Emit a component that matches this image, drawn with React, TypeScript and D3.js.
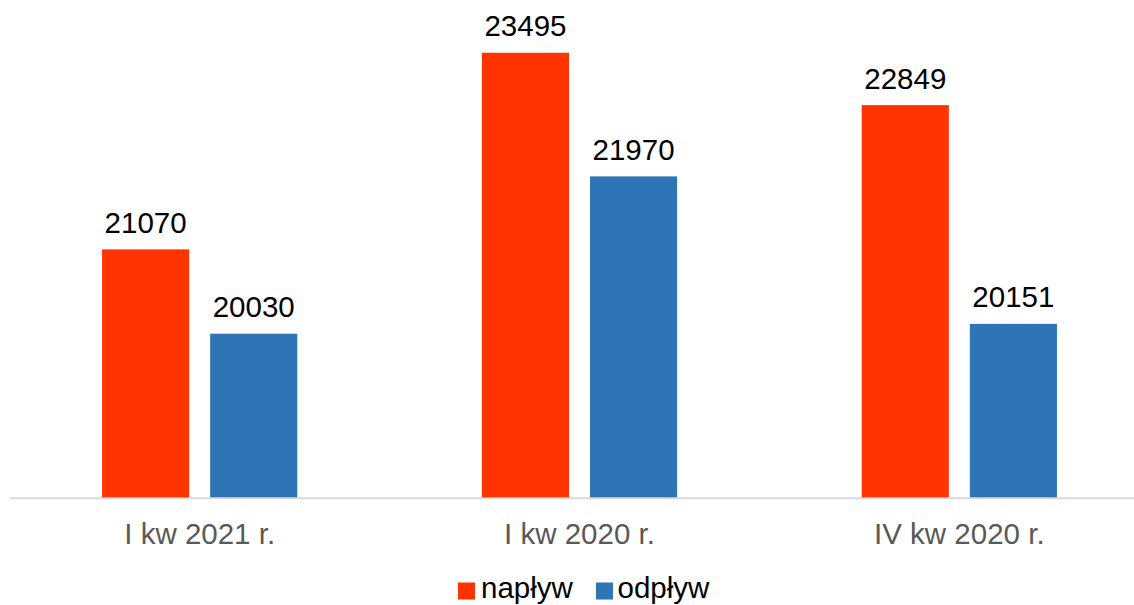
import React from "react";
import * as d3 from "d3";

const categories = ["I kw 2021 r.", "I kw 2020 r.", "IV kw 2020 r."];
const seriesNames = ["napływ", "odpływ"];
const naplyw = [21070, 23495, 22849];
const odplyw = [20030, 21970, 20151];
const seriesColors = ["#FF3300", "#2E75B6"];

const W = 1134;
const H = 605;
const FONT = "'Liberation Sans', Arial, sans-serif";
const FS = 29.5;

export default function App() {
  const x = d3
    .scaleBand<string>()
    .domain(categories)
    .range([9.75, 1149.25])
    .paddingInner(0.486)
    .paddingOuter(0.243);
  const xs = d3
    .scaleBand<string>()
    .domain(seriesNames)
    .range([0, x.bandwidth()])
    .paddingInner(0.194)
    .paddingOuter(0);
  const y = d3.scaleLinear().domain([18000, 24000]).range([498.3, 11.8]);
  const series = [naplyw, odplyw];
  const base = y(18000);

  return (
    <svg
      width={W}
      height={H}
      style={{ position: "absolute", left: 0, top: 0, background: "#fff" }}
      fontFamily={FONT}
    >
      {categories.map((c, ci) =>
        seriesNames.map((s, si) => {
          const v = series[si][ci];
          const bx = (x(c) ?? 0) + (xs(s) ?? 0);
          return (
            <g key={c + s}>
              <rect
                x={bx}
                y={y(v)}
                width={xs.bandwidth()}
                height={base - y(v)}
                fill={seriesColors[si]}
              />
              <text
                x={bx + xs.bandwidth() / 2}
                y={y(v) - 16.5}
                textAnchor="middle"
                fontSize={FS}
                fill="#000"
              >
                {v}
              </text>
            </g>
          );
        })
      )}
      <line x1={10} x2={W} y1={base} y2={base} stroke="#D9D9D9" strokeWidth={2} />
      {categories.map((c) => (
        <text
          key={c}
          x={(x(c) ?? 0) + x.bandwidth() / 2}
          y={543.5}
          textAnchor="middle"
          fontSize={FS}
          fill="#595959"
        >
          {c}
        </text>
      ))}
      <g>
        <rect x={458} y={582.5} width={17} height={17} fill={seriesColors[0]} />
        <text x={481} y={597.5} fontSize={FS} fill="#000">
          {seriesNames[0]}
        </text>
        <rect x={596} y={582.5} width={17} height={17} fill={seriesColors[1]} />
        <text x={617.5} y={597.5} fontSize={FS} fill="#000">
          {seriesNames[1]}
        </text>
      </g>
    </svg>
  );
}
